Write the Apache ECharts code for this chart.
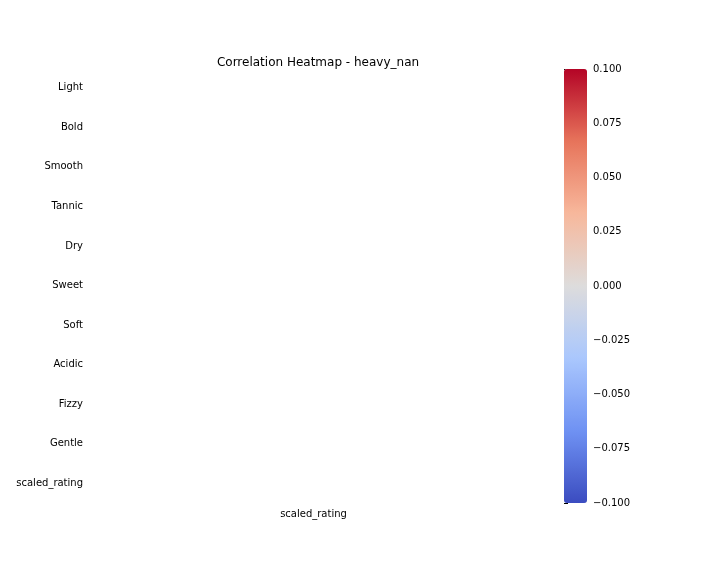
<!DOCTYPE html>
<html>
<head>
<meta charset="utf-8">
<script src="https://cdn.jsdelivr.net/npm/echarts@6/dist/echarts.min.js"></script>
<style>html,body{margin:0;padding:0;background:#fff}#main{width:720px;height:576px}</style>
</head>
<body>
<div id="main"></div>
<script>
// every correlation is NaN, so no cell gets drawn
var rowNames = ['Light', 'Bold', 'Smooth', 'Tannic', 'Dry', 'Sweet', 'Soft', 'Acidic', 'Fizzy', 'Gentle', 'scaled_rating'];
var colNames = ['scaled_rating'];
var corrValues = [null, null, null, null, null, null, null, null, null, null, null];
var barTicks = [-0.1, -0.075, -0.05, -0.025, 0, 0.025, 0.05, 0.075, 0.1];

var cells = corrValues.map(function (v, i) {
    return [0, i, v === null ? '-' : v];
});

var font = 'DejaVu Sans';
var chart = echarts.init(document.getElementById('main'));
chart.setOption({
    backgroundColor: '#fff',
    animation: false,
    title: {
        text: 'Correlation Heatmap - heavy_nan',
        left: 313, top: 52, textAlign: 'center',
        textStyle: {fontFamily: font, fontSize: 12, fontWeight: 'normal', color: '#000'}
    },
    grid: [
        {left: 91, top: 68, width: 445, height: 435},
        {left: 564, top: 69, width: 23, height: 434}
    ],
    xAxis: [
        {gridIndex: 0, type: 'category', data: colNames,
         axisLine: {show: false}, axisTick: {length: 4, lineStyle: {color: '#000'}},
         axisLabel: {fontFamily: font, fontSize: 10, color: '#000', margin: 6},
         splitLine: {show: false}},
        {gridIndex: 1, type: 'value', show: false}
    ],
    yAxis: [
        {gridIndex: 0, type: 'category', data: rowNames, inverse: true,
         axisLine: {show: false}, axisTick: {length: 4, lineStyle: {color: '#000'}},
         axisLabel: {fontFamily: font, fontSize: 10, color: '#000', margin: 8},
         splitLine: {show: false}},
        {gridIndex: 1, type: 'value', position: 'right', min: -0.1, max: 0.1, interval: 0.025,
         axisLine: {show: false}, axisTick: {show: true, length: 4, lineStyle: {color: '#000'}},
         axisLabel: {fontFamily: font, fontSize: 10, color: '#000', margin: 6,
                     formatter: function (v) { return (v < 0 ? '\u2212' : '') + Math.abs(v).toFixed(3); }},
         splitLine: {show: false}}
    ],
    visualMap: {
        type: 'continuous', min: barTicks[0], max: barTicks[barTicks.length - 1],
        left: 564, top: 69, itemWidth: 23, itemHeight: 434, padding: 0,
        text: ['', ''], showLabel: false, calculable: false, seriesIndex: 0,
        inRange: {color: ['#3b4cc0', '#6f92f3', '#aac7fd', '#dddcdc', '#f7b89c', '#e7745b', '#b40426']}
    },
    series: [{
        type: 'heatmap', xAxisIndex: 0, yAxisIndex: 0, data: cells,
        itemStyle: {borderColor: '#fff', borderWidth: 0.5}
    }]
});
</script>
</body>
</html>
